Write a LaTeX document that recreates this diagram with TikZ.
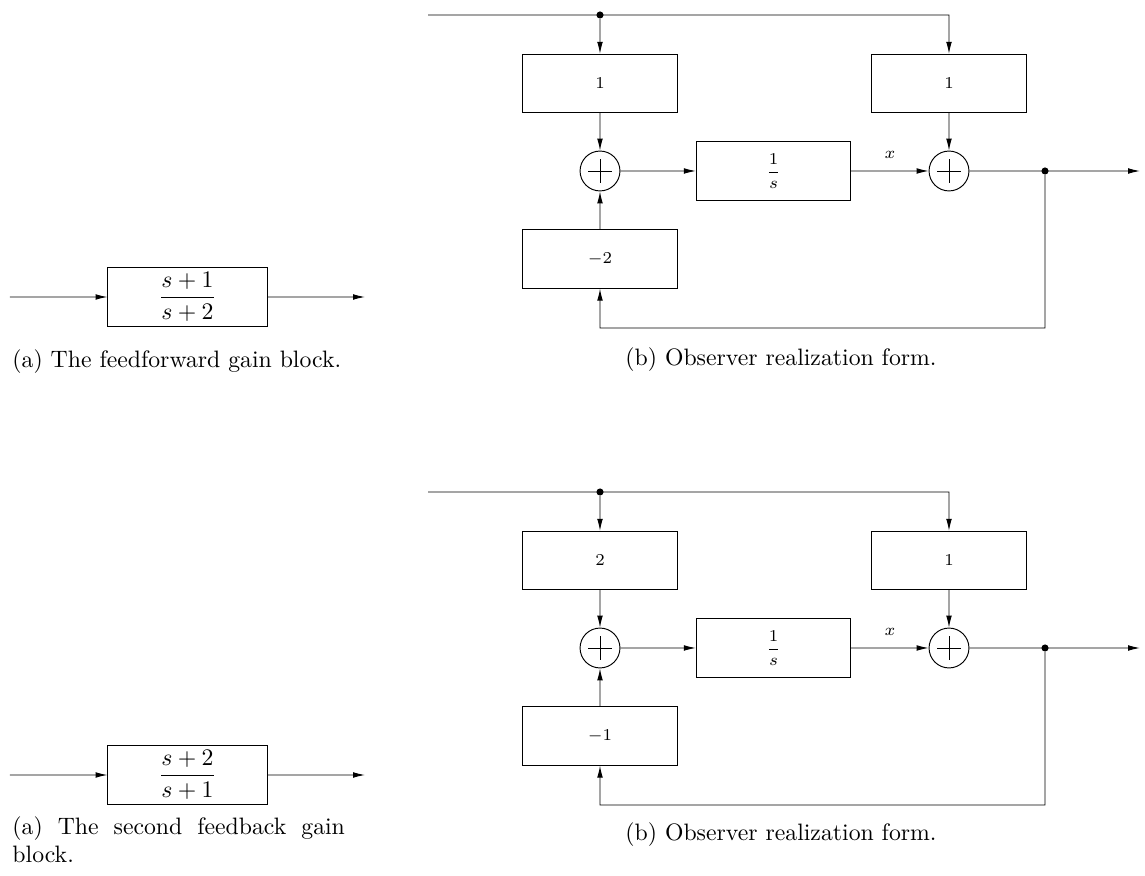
\documentclass[tikz,border=0pt]{standalone}
\usepackage{amsmath}
\usepackage{tikz}
\usetikzlibrary{positioning,arrows.meta}

\newcommand{\sumcross}[1]{\draw (#1.center) +(-1.2,0) -- +(1.2,0) +(0,-1.2) -- +(0,1.2);}

\begin{document}
\begin{tikzpicture}[scale=0.148,>={Latex[length=5pt,width=2.4pt]},
gainbox/.style={draw,rectangle,minimum width=65pt,minimum height=24.6pt,inner sep=0pt,font=\scriptsize},
ffbox/.style={draw,rectangle,minimum width=67pt,minimum height=25pt,inner sep=0pt},
sumnode/.style={draw,circle,minimum size=16.8pt,inner sep=0pt},
junct/.style={fill,circle,minimum size=3pt,inner sep=0pt},
subcap/.style={inner sep=0pt},
acap/.style={inner sep=0pt,text width=140pt,align=justify,anchor=north west}]
\useasboundingbox (0,0) rectangle (114.5,-87.6);
\coordinate (in1) at (42.8,-1.5);
\node [junct] (d1) at (60,-1.5) {};
\coordinate (c1) at (94.9,-1.5);
\node [gainbox] (g11) at (60,-8.35) {$1$};
\node [gainbox] (g12) at (94.9,-8.35) {$1$};
\node [sumnode] (s11) at (60,-17.1) {};
\node [sumnode] (s12) at (94.9,-17.1) {};
\node [gainbox,minimum height=25pt] (int1) at (77.35,-17.1) {$\dfrac{1}{s}$};
\node [gainbox] (f1) at (60,-25.9) {$-2$};
\node [junct] (d2) at (104.5,-17.1) {};
\coordinate (out1) at (114,-17.1);
\coordinate (fb1) at (104.5,-32.8);
\node [font=\scriptsize] (x1) at (89.0,-15.5) {$x$};
\node [subcap] (capb1) at (78.1,-36.0) {(b) Observer realization form.};
\sumcross{s11}
\sumcross{s12}
\draw [->] (in1) -- (c1) -- (g12);
\draw [->] (d1) -- (g11);
\draw [->] (g11) -- (s11);
\draw [->] (g12) -- (s12);
\draw [->] (s11) -- (int1);
\draw [->] (int1) -- (s12);
\draw [->] (s12) -- (out1);
\draw [->] (d2) -- (fb1) -| (f1);
\draw [->] (f1) -- (s11);
\coordinate (ain1) at (1.0,-29.7);
\node [ffbox] (ff1) at (18.75,-29.7) {$\dfrac{s+1}{s+2}$};
\coordinate (aout1) at (36.5,-29.7);
\draw [->] (ain1) -- (ff1);
\draw [->] (ff1) -- (aout1);
\node [acap] (capa1) at (1.2,-34.9) {(a) The feedforward gain block.};
\coordinate (in2) at (42.8,-49.2);
\node [junct] (d3) at (60,-49.2) {};
\coordinate (c2) at (94.9,-49.2);
\node [gainbox] (g21) at (60,-56.05) {$2$};
\node [gainbox] (g22) at (94.9,-56.05) {$1$};
\node [sumnode] (s21) at (60,-64.8) {};
\node [sumnode] (s22) at (94.9,-64.8) {};
\node [gainbox,minimum height=25pt] (int2) at (77.35,-64.8) {$\dfrac{1}{s}$};
\node [gainbox] (f2) at (60,-73.6) {$-1$};
\node [junct] (d4) at (104.5,-64.8) {};
\coordinate (out2) at (114,-64.8);
\coordinate (fb2) at (104.5,-80.5);
\node [font=\scriptsize] (x2) at (89.0,-63.2) {$x$};
\node [subcap] (capb2) at (78.1,-83.5) {(b) Observer realization form.};
\sumcross{s21}
\sumcross{s22}
\draw [->] (in2) -- (c2) -- (g22);
\draw [->] (d3) -- (g21);
\draw [->] (g21) -- (s21);
\draw [->] (g22) -- (s22);
\draw [->] (s21) -- (int2);
\draw [->] (int2) -- (s22);
\draw [->] (s22) -- (out2);
\draw [->] (d4) -- (fb2) -| (f2);
\draw [->] (f2) -- (s21);
\coordinate (ain2) at (1.0,-77.5);
\node [ffbox] (ff2) at (18.75,-77.5) {$\dfrac{s+2}{s+1}$};
\coordinate (aout2) at (36.5,-77.5);
\draw [->] (ain2) -- (ff2);
\draw [->] (ff2) -- (aout2);
\node [acap] (capa2) at (1.2,-81.6) {(a) The second feedback gain block.};
\end{tikzpicture}
\end{document}
